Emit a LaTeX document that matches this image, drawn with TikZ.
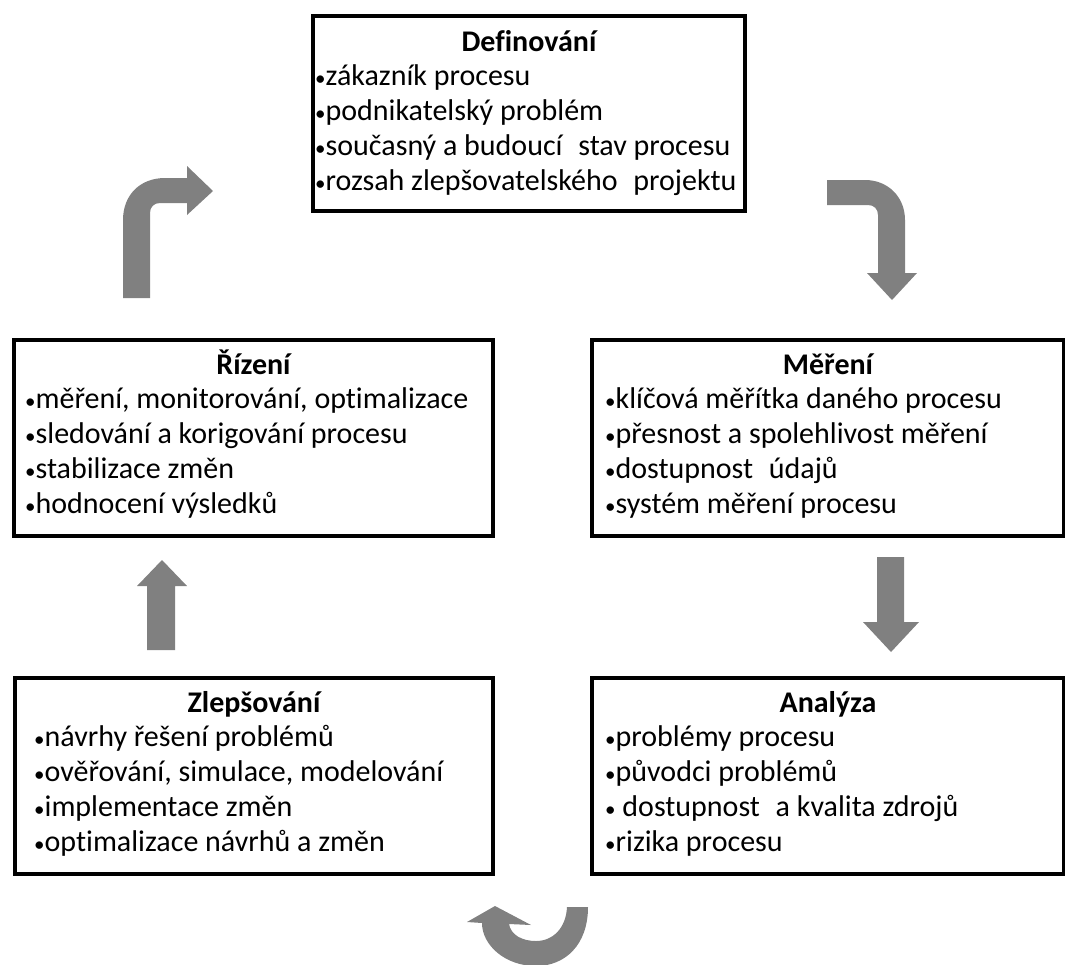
\documentclass[tikz,border=0pt]{standalone}
\usepackage{fontspec}
\setmainfont{Carlito}[Ligatures={NoCommon}]
\definecolor{arrgray}{RGB}{128,128,128}
\newcommand{\xsp}{\hspace{0.3em}}
\newcommand{\bul}{{\fontsize{21}{21}\selectfont •}}
\begin{document}
\begin{tikzpicture}[x=1pt,y=-1pt,
  box/.style={draw=black, line width=4pt, fill=white, inner sep=0pt, anchor=north west},
  ttl/.style={anchor=base, font=\fontsize{30}{35}\selectfont\bfseries, inner sep=0pt},
  itm/.style={anchor=base west, font=\fontsize{30}{35}\selectfont, inner sep=0pt},
  arr/.style={fill=arrgray, draw=none}]
\useasboundingbox (0,0) rectangle (1065,964);

% boxes
\node[box, minimum width=432pt, minimum height=195pt] (def) at (311,14) {};
\node[box, minimum width=479pt, minimum height=196pt] (riz) at (12,338) {};
\node[box, minimum width=472pt, minimum height=196pt] (mer) at (590,338) {};
\node[box, minimum width=478pt, minimum height=196pt] (zle) at (13,676) {};
\node[box, minimum width=472pt, minimum height=196pt] (ana) at (590,676) {};

% Definovani
\node[ttl] (defT) at ([yshift=-37pt]def.north) {Definování};
\node[itm] (def1) at ([xshift=4pt,yshift=-71pt]def.north west) {\bul zákazník procesu};
\node[itm] (def2) at ([xshift=4pt,yshift=-106pt]def.north west) {\bul podnikatelský problém};
\node[itm] (def3) at ([xshift=4pt,yshift=-141pt]def.north west) {\bul současný a budoucí\xsp{} stav procesu};
\node[itm] (def4) at ([xshift=4pt,yshift=-176pt]def.north west) {\bul rozsah zlepšovatelského\xsp{} projektu};

% Rizeni
\node[ttl] (rizT) at ([yshift=-36pt]riz.north) {Řízení};
\node[itm] (riz1) at ([xshift=13pt,yshift=-70pt]riz.north west) {\bul měření, monitorování, optimalizace};
\node[itm] (riz2) at ([xshift=13pt,yshift=-105pt]riz.north west) {\bul sledování a korigování procesu};
\node[itm] (riz3) at ([xshift=13pt,yshift=-140pt]riz.north west) {\bul stabilizace změn};
\node[itm] (riz4) at ([xshift=13pt,yshift=-175pt]riz.north west) {\bul hodnocení výsledků};

% Mereni
\node[ttl] (merT) at ([yshift=-36pt]mer.north) {Měření};
\node[itm] (mer1) at ([xshift=15pt,yshift=-70pt]mer.north west) {\bul klíčová měřítka daného procesu};
\node[itm] (mer2) at ([xshift=15pt,yshift=-105pt]mer.north west) {\bul přesnost a spolehlivost měření};
\node[itm] (mer3) at ([xshift=15pt,yshift=-140pt]mer.north west) {\bul dostupnost\xsp{} údajů};
\node[itm] (mer4) at ([xshift=15pt,yshift=-175pt]mer.north west) {\bul systém měření procesu};

% Zlepsovani
\node[ttl] (zleT) at ([yshift=-36pt]zle.north) {Zlepšování};
\node[itm] (zle1) at ([xshift=21pt,yshift=-70pt]zle.north west) {\bul návrhy řešení problémů};
\node[itm] (zle2) at ([xshift=21pt,yshift=-105pt]zle.north west) {\bul ověřování, simulace, modelování};
\node[itm] (zle3) at ([xshift=21pt,yshift=-140pt]zle.north west) {\bul implementace změn};
\node[itm] (zle4) at ([xshift=21pt,yshift=-175pt]zle.north west) {\bul optimalizace návrhů a změn};

% Analyza
\node[ttl] (anaT) at ([yshift=-36pt]ana.north) {Analýza};
\node[itm] (ana1) at ([xshift=15pt,yshift=-70pt]ana.north west) {\bul problémy procesu};
\node[itm] (ana2) at ([xshift=15pt,yshift=-105pt]ana.north west) {\bul původci problémů};
\node[itm] (ana3) at ([xshift=15pt,yshift=-140pt]ana.north west) {\bul{} dostupnost\xsp{} a kvalita zdrojů};
\node[itm] (ana4) at ([xshift=15pt,yshift=-175pt]ana.north west) {\bul rizika procesu};

% arrows
% up-right bent arrow (Rizeni -> Definovani)
\fill[arr] (123,298) -- (123,220) .. controls (123,195) and (140,178) .. (165,178)
  -- (187,178) -- (187,166) -- (213,191) -- (187,215) -- (187,203) -- (160,203)
  .. controls (154,203) and (150,207) .. (150,213) -- (150,298) -- cycle;
% right-down bent arrow (Definovani -> Mereni)
\fill[arr] (827,180) -- (865,180) .. controls (888,180) and (905,197) .. (905,220)
  -- (905,273) -- (917,273) -- (892,300) -- (867,273) -- (878,273) -- (878,215)
  .. controls (878,209) and (874,205) .. (868,205) -- (827,205) -- cycle;
% down arrow (Mereni -> Analyza)
\fill[arr] (877,557) -- (904,557) -- (904,622) -- (919,622) -- (891,652) -- (863,622) -- (877,622) -- cycle;
% up arrow (Zlepsovani -> Rizeni)
\fill[arr] (147,650) -- (147,586) -- (137,586) -- (162,560) -- (187,586) -- (175,586) -- (175,650) -- cycle;
% U-turn arrow (Analyza -> Zlepsovani)
\fill[arr] (588,907) .. controls (588,945) and (565,966) .. (536,966)
  .. controls (505,966) and (482,945) .. (482,923)
  -- (467,922) -- (495,906) -- (531,925) -- (509,924)
  .. controls (511,935) and (522,941) .. (536,941)
  .. controls (553,941) and (566,928) .. (567,907) -- cycle;
\end{tikzpicture}
\end{document}
